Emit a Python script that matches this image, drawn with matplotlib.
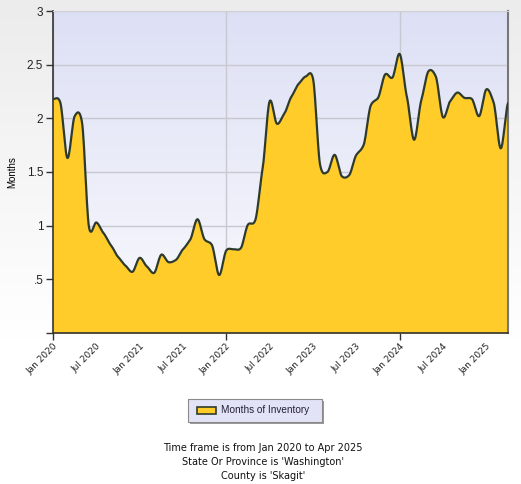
import matplotlib
matplotlib.use("Agg")
import matplotlib.pyplot as plt
import numpy as np
from matplotlib.patches import Rectangle

# monthly months-of-inventory, Jan 2020 .. Apr 2025
months = np.arange(64)
inventory = [
    2.18, 2.15, 1.63, 2.02, 1.97, 0.98, 1.03, 0.93, 0.82, 0.71, 0.63, 0.57,
    0.70, 0.62, 0.56, 0.73, 0.66, 0.68, 0.78, 0.87, 1.06, 0.87, 0.82, 0.54,
    0.77, 0.78, 0.79, 1.01, 1.05, 1.52, 2.16, 1.95, 2.04, 2.20, 2.32, 2.39,
    2.37, 1.56, 1.50, 1.66, 1.46, 1.47, 1.66, 1.75, 2.12, 2.19, 2.41, 2.38,
    2.60, 2.20, 1.80, 2.17, 2.44, 2.39, 2.01, 2.16, 2.24, 2.19, 2.18, 2.02,
    2.27, 2.15, 1.72, 2.14,
]
tick_months = list(range(0, 61, 6))
tick_labels = ["Jan 2020", "Jul 2020", "Jan 2021", "Jul 2021", "Jan 2022",
               "Jul 2022", "Jan 2023", "Jul 2023", "Jan 2024", "Jul 2024",
               "Jan 2025"]
y_ticks = [0, 0.5, 1, 1.5, 2, 2.5, 3]
y_labels = ["", ".5", "1", "1.5", "2", "2.5", "3"]
footer = ["Time frame is from Jan 2020 to Apr 2025",
          "State Or Province is 'Washington'",
          "County is 'Skagit'"]

FILL = "#FFCC29"
LINE = "#2E3B2C"


def cardinal_spline(x, y, tension=0.3, n=14):
    # smooth curve through every monthly point, like the source chart
    x = np.asarray(x, float)
    y = np.asarray(y, float)
    p = np.concatenate([[y[0]], y, [y[-1]]])
    k = (1 - tension) * 0.5
    xs, ys = [], []
    for i in range(len(y) - 1):
        t = np.linspace(0, 1, n, endpoint=False)
        p1, p2 = p[i + 1], p[i + 2]
        m1 = k * (p[i + 2] - p[i])
        m2 = k * (p[i + 3] - p[i + 1])
        h00 = 2 * t ** 3 - 3 * t ** 2 + 1
        h10 = t ** 3 - 2 * t ** 2 + t
        h01 = -2 * t ** 3 + 3 * t ** 2
        h11 = t ** 3 - t ** 2
        xs.append(x[i] + t * (x[i + 1] - x[i]))
        ys.append(h00 * p1 + h10 * m1 + h01 * p2 + h11 * m2)
    xs.append([x[-1]])
    ys.append([y[-1]])
    return np.concatenate(xs), np.concatenate(ys)


fig = plt.figure(figsize=(5.21, 4.84), dpi=100)
fig.patch.set_facecolor("white")

# soft grey page gradient behind the plot
bg = fig.add_axes([0, 0, 1, 1], zorder=-10)
grad = np.linspace(0, 1, 256).reshape(-1, 1)
bg.imshow(grad, cmap=matplotlib.colors.LinearSegmentedColormap.from_list(
    "pg", ["#ECECEC", "#FFFFFF"]), aspect="auto", extent=[0, 1, 0.3, 1],
    origin="upper", vmin=0, vmax=1)
bg.set_xlim(0, 1)
bg.set_ylim(0, 1)
bg.axis("off")

ax = fig.add_axes([53 / 521, 1 - 333 / 484, 455 / 521, 322 / 484])

# lavender plot-area gradient
ax.imshow(grad, cmap=matplotlib.colors.LinearSegmentedColormap.from_list(
    "pa", ["#DDE0F5", "#FAFAFD"]), aspect="auto", extent=[0, 63, 0, 3],
    origin="upper", zorder=0)

sx, sy = cardinal_spline(months, inventory)
ax.fill_between(sx, 0, sy, color=FILL, zorder=2, lw=0)
ax.plot(sx, sy, color=LINE, lw=1.6, zorder=3)
ax.set_xlim(0, 63)
ax.set_ylim(0, 3)

ax.set_yticks(y_ticks)
ax.set_yticklabels(y_labels, fontsize=8.5, family="Liberation Sans", color="#222222")
ax.xaxis.remove_overlapping_locs = False
ax.set_xticks(tick_months)
ax.set_xticklabels(tick_labels, rotation=45, ha="right", rotation_mode="anchor",
                   fontsize=6.5, color="#222222")
ax.set_xticks([0, 24, 48], minor=True)
ax.tick_params(axis="x", which="major", length=0, pad=6)
ax.tick_params(axis="x", which="minor", length=5, width=1, color="#333333")
ax.tick_params(axis="y", length=5, width=1, color="#333333", pad=2)
ax.set_axisbelow(True)
ax.grid(axis="y", which="major", color="#C8C8D0", lw=1)
ax.grid(axis="x", which="minor", color="#C8C8D0", lw=1)

ax.spines["left"].set_color("#333333")
ax.spines["bottom"].set_color("#333333")
ax.spines["left"].set_linewidth(1.2)
ax.spines["bottom"].set_linewidth(1.2)
ax.spines["top"].set_color("#D0D0D8")
ax.spines["right"].set_color("#777777")
ax.spines["right"].set_linewidth(1.5)

fig.text(12 / 521, 1 - 172 / 484, "Months", rotation=90, ha="center",
         va="center", fontsize=7, family="Liberation Sans")

# legend box
fig.patches.append(Rectangle((190 / 521, 1 - 424 / 484), 134 / 521, 23 / 484,
                             transform=fig.transFigure, facecolor="#999999",
                             edgecolor="none", zorder=1))
fig.patches.append(Rectangle((188 / 521, 1 - 422 / 484), 134 / 521, 23 / 484,
                             transform=fig.transFigure, facecolor="#E2E3F6",
                             edgecolor="#8A8A8A", lw=0.8, zorder=2))
fig.patches.append(Rectangle((197 / 521, 1 - 414 / 484), 19 / 521, 7 / 484,
                             transform=fig.transFigure, facecolor=FILL,
                             edgecolor=LINE, lw=1.2, zorder=3))
fig.text(221 / 521, 1 - 410 / 484, "Months of Inventory", ha="left",
         va="center", fontsize=7.2, family="Liberation Sans", color="#222233")

for i, line in enumerate(footer):
    fig.text(263 / 521, 1 - (448 + 14 * i) / 484, line, ha="center",
             va="center", fontsize=7, color="#111111")

fig.savefig("out.png", dpi=100)
